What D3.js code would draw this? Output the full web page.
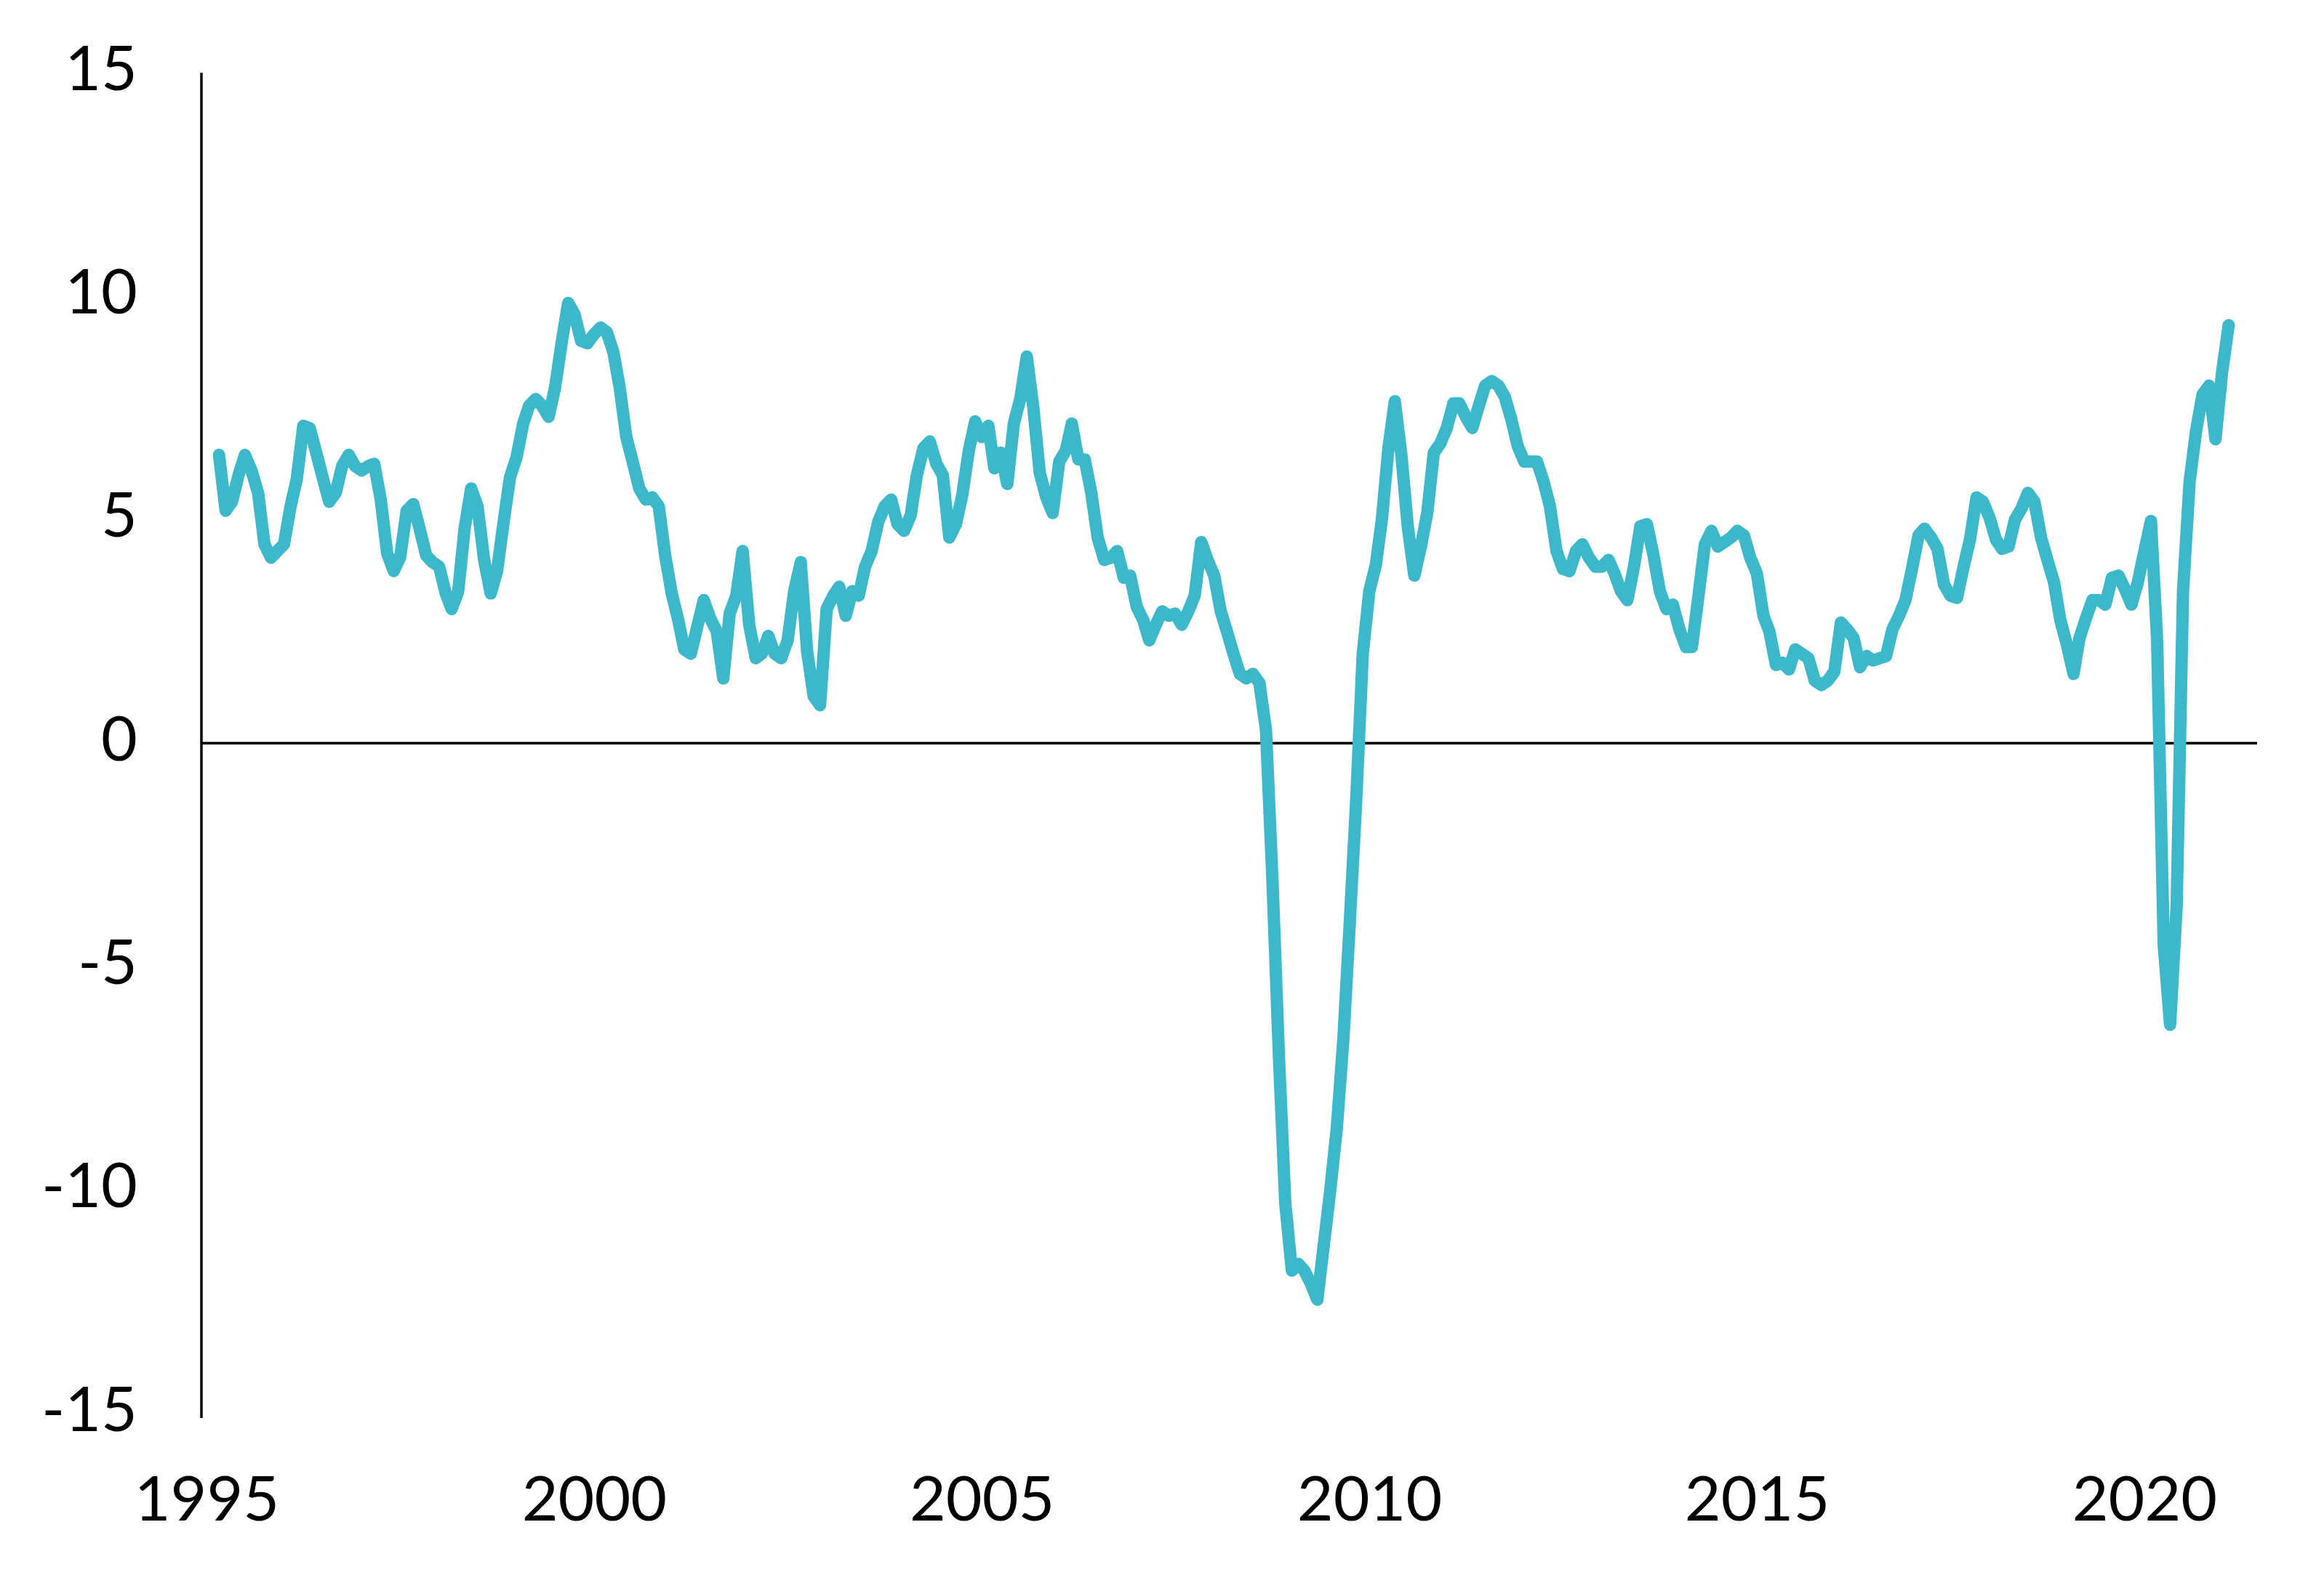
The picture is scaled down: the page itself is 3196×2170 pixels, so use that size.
<!DOCTYPE html>
<html>
<head>
<meta charset="utf-8">
<script src="https://cdn.jsdelivr.net/npm/d3@7"></script>
<style>
  html, body { margin: 0; padding: 0; background: #ffffff; }
  svg { display: block; }
  text { font-family: Lato, "Open Sans", sans-serif; fill: #000; }
</style>
</head>
<body>
<svg id="chart" width="3196" height="2170"></svg>
<script>
// ---- data (monthly, first value = March 1995) ----
const startYear = 1995;
const startMonth = 2; // 0-based: March
const values = [
  6.45, 5.2, 5.4, 6.0, 6.45, 6.1, 5.6, 4.45, 4.15, 4.3,            // 1995
  4.45, 5.3, 5.9, 7.1, 7.05, 6.5, 5.95, 5.4, 5.6, 6.2, 6.45, 6.2,  // 1996
  6.1, 6.2, 6.25, 5.45, 4.25, 3.85, 4.15, 5.2, 5.35, 4.8, 4.2, 4.05, // 1997
  3.95, 3.35, 3.0, 3.4, 4.8, 5.7, 5.3, 4.1, 3.35, 3.85, 4.95, 5.95, // 1998
  6.4, 7.15, 7.55, 7.7, 7.55, 7.3, 7.95, 8.95, 9.85, 9.6, 9.0, 8.95, // 1999
  9.15, 9.3, 9.2, 8.75, 7.95, 6.85, 6.3, 5.7, 5.45, 5.5, 5.3, 4.2,  // 2000
  3.35, 2.75, 2.1, 2.0, 2.6, 3.2, 2.8, 2.5, 1.45, 2.9, 3.3, 4.3,    // 2001
  2.65, 1.9, 2.0, 2.4, 2.0, 1.9, 2.3, 3.4, 4.05, 2.05, 1.05, 0.85,  // 2002
  3.0, 3.3, 3.5, 2.85, 3.4, 3.3, 3.95, 4.3, 4.95, 5.3, 5.45, 4.9,   // 2003
  4.75, 5.1, 6.0, 6.6, 6.75, 6.25, 6.0, 4.6, 4.9, 5.55, 6.55, 7.2,  // 2004
  6.85, 7.1, 6.15, 6.5, 5.8, 7.15, 7.7, 8.65, 7.5, 6.05, 5.5, 5.15, // 2005
  6.3, 6.55, 7.15, 6.35, 6.35, 5.6, 4.6, 4.1, 4.15, 4.3, 3.7, 3.75, // 2006
  3.05, 2.75, 2.3, 2.65, 2.95, 2.85, 2.9, 2.65, 2.95, 3.3, 4.5, 4.1, // 2007
  3.75, 2.95, 2.5, 2.0, 1.55, 1.45, 1.55, 1.35, 0.3, -3.0, -7.0, -10.3, // 2008
  -11.8, -11.65, -11.8, -12.1, -12.45, -11.2, -10.0, -8.6, -6.6, -4.0, -1.2, 2.0, // 2009
  3.4, 4.0, 5.0, 6.6, 7.65, 6.45, 4.85, 3.75, 4.4, 5.15, 6.5, 6.7,  // 2010
  7.05, 7.6, 7.6, 7.3, 7.05, 7.55, 8.0, 8.1, 8.0, 7.75, 7.25, 6.65, // 2011
  6.3, 6.3, 6.3, 5.85, 5.3, 4.3, 3.9, 3.85, 4.3, 4.45, 4.15, 3.95,  // 2012
  3.95, 4.1, 3.8, 3.4, 3.2, 3.95, 4.85, 4.9, 4.2, 3.4, 3.0, 3.1,    // 2013
  2.55, 2.15, 2.15, 3.3, 4.45, 4.75, 4.4, 4.5, 4.6, 4.75, 4.65, 4.15, // 2014
  3.8, 2.85, 2.5, 1.75, 1.8, 1.65, 2.1, 2.0, 1.9, 1.4, 1.3, 1.4,    // 2015
  1.6, 2.7, 2.55, 2.35, 1.7, 1.95, 1.85, 1.9, 1.95, 2.55, 2.85, 3.2, // 2016
  3.9, 4.65, 4.8, 4.6, 4.35, 3.55, 3.3, 3.25, 3.95, 4.55, 5.5, 5.4, // 2017
  5.05, 4.55, 4.35, 4.4, 5.0, 5.25, 5.6, 5.4, 4.6, 4.1, 3.6, 2.75,  // 2018
  2.2, 1.55, 2.35, 2.8, 3.2, 3.2, 3.1, 3.7, 3.75, 3.45, 3.1, 3.6,   // 2019
  4.3, 4.97, 2.3, -4.5, -6.3, -3.65, 3.4, 5.85, 7.0, 7.8, 8.0, 6.8, // 2020
  8.3, 9.35                                                          // 2021
];
const yTickValues = [-15, -10, -5, 0, 5, 10, 15];
const xTickYears = [1995, 2000, 2005, 2010, 2015, 2020];

// ---- layout ----
const lineColor = "#3cb8ca";
const svg = d3.select("#chart");

const x = d3.scaleTime()
  .domain([new Date(1995, 0, 1), new Date(2020, 0, 1)])
  .range([284, 2949]);
const y = d3.scaleLinear()
  .domain([-15, 15])
  .range([1944, 100]);

const data = values.map((v, i) => ({ date: new Date(startYear, startMonth + i, 1), value: v }));

const axisX = 277;
const axisRight = 3104;

// vertical axis line
svg.append("line")
  .attr("x1", axisX).attr("x2", axisX)
  .attr("y1", y(15)).attr("y2", y(-15) + 6)
  .attr("stroke", "#000").attr("stroke-width", 3.5);

// zero line
svg.append("line")
  .attr("x1", axisX).attr("x2", axisRight)
  .attr("y1", y(0)).attr("y2", y(0))
  .attr("stroke", "#000").attr("stroke-width", 3.5);

// line series
const line = d3.line()
  .x(d => x(d.date))
  .y(d => y(d.value));

svg.append("path")
  .datum(data)
  .attr("d", line)
  .attr("fill", "none")
  .attr("stroke", lineColor)
  .attr("stroke-width", 17)
  .attr("stroke-linejoin", "round")
  .attr("stroke-linecap", "round");

// y axis labels
const yAxis = d3.axisLeft(y)
  .tickValues(yTickValues)
  .tickFormat(d => String(d))
  .tickSize(0)
  .tickPadding(0);
const gy = svg.append("g").attr("transform", "translate(189,0)").call(yAxis);
gy.select(".domain").remove();
gy.selectAll("text")
  .attr("x", 0)
  .attr("y", 23)
  .attr("dy", null)
  .attr("text-anchor", "end")
  .style("font-family", "Lato, 'Open Sans', sans-serif")
  .style("font-size", "86px")
  .attr("fill", "#000");

// x axis labels
const xAxis = d3.axisBottom(x)
  .tickValues(xTickYears.map(yr => new Date(yr, 0, 1)))
  .tickFormat(d3.timeFormat("%Y"))
  .tickSize(0)
  .tickPadding(0);
const gx = svg.append("g").attr("transform", "translate(0,2091)").call(xAxis);
gx.select(".domain").remove();
gx.selectAll("text")
  .attr("y", 0)
  .attr("dy", null)
  .attr("text-anchor", "middle")
  .style("font-family", "Lato, 'Open Sans', sans-serif")
  .style("font-size", "86px")
  .attr("fill", "#000");
</script>
</body>
</html>
